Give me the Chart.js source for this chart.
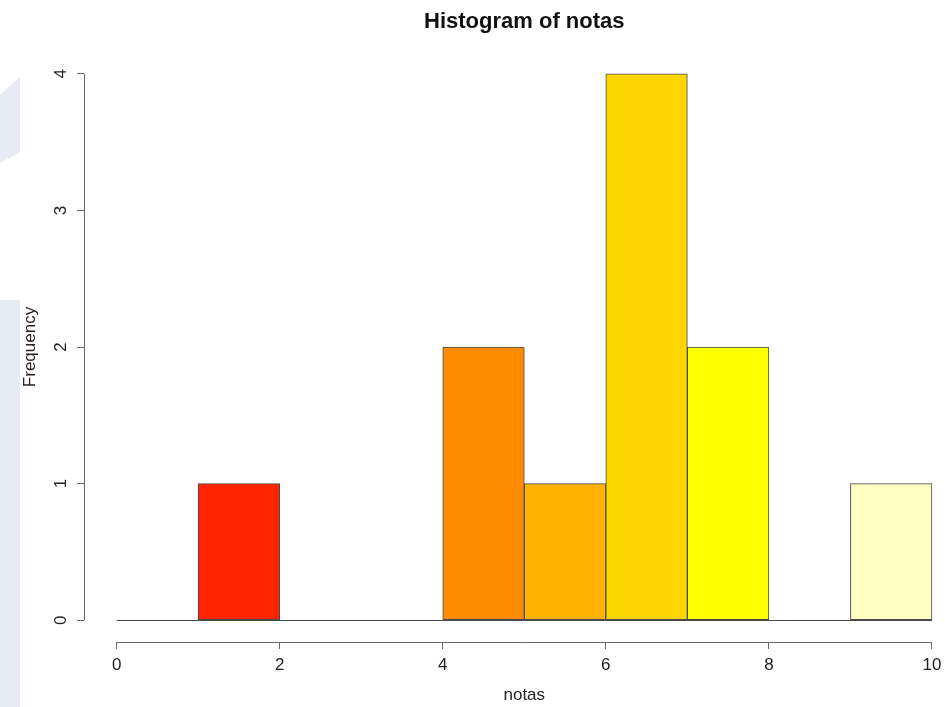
<!DOCTYPE html>
<html>
<head>
<meta charset="utf-8">
<script src="https://cdn.jsdelivr.net/npm/chart.js@4.4.0/dist/chart.umd.min.js"></script>
<style>
html, body { margin: 0; padding: 0; background: #fff; }
#wrap { width: 945px; height: 707px; }
</style>
</head>
<body>
<div id="wrap"><canvas id="histChart" width="945" height="707"></canvas></div>
<script>
// histogram of notas, bins of width 1 from 0 to 10
const binMids = [0.5, 1.5, 2.5, 3.5, 4.5, 5.5, 6.5, 7.5, 8.5, 9.5];
const frequencies = [0, 1, 0, 0, 2, 1, 4, 2, 0, 1];
const binColors = ['#FF0000', '#FF2500', '#FF4A00', '#FF6E00', '#FF8C00', '#FFB300', '#FFD700', '#FFFF00', '#FFFF80', '#FFFFC4'];
const xTicks = [0, 2, 4, 6, 8, 10];
const yTicks = [0, 1, 2, 3, 4];

const fontName = '"Liberation Sans", Arial, sans-serif';
const axisColor = '#666';
const barEdge = '#4a4a4a';

// R-like axes, titles and the grey-blue shape on the left
const rStyle = {
    id: 'rStyle',
    beforeDraw(chart) {
        const ctx = chart.ctx;
        ctx.save();
        ctx.fillStyle = '#E7EBF2';
        ctx.beginPath();
        ctx.moveTo(0, 95); ctx.lineTo(20, 77); ctx.lineTo(20, 152); ctx.lineTo(0, 163);
        ctx.closePath();
        ctx.fill();
        ctx.fillRect(0, 300, 20, 407);
        ctx.restore();
    },
    afterDraw(chart) {
        const ctx = chart.ctx;
        const x = chart.scales.x;
        const y = chart.scales.y;
        const area = chart.chartArea;
        ctx.save();
        ctx.lineWidth = 1;

        // baseline under all bins (zero-height bins too)
        const y0 = Math.round(y.getPixelForValue(0)) + 0.5;
        ctx.strokeStyle = barEdge;
        ctx.beginPath();
        ctx.moveTo(x.getPixelForValue(0), y0);
        ctx.lineTo(x.getPixelForValue(10), y0);
        ctx.stroke();

        // x axis line
        ctx.strokeStyle = axisColor;
        const xb = Math.round(area.bottom) + 0.5;
        ctx.beginPath();
        ctx.moveTo(x.getPixelForValue(xTicks[0]), xb);
        ctx.lineTo(x.getPixelForValue(xTicks[xTicks.length - 1]), xb);
        ctx.stroke();

        // y axis line
        const yl = Math.round(area.left) + 0.5;
        ctx.beginPath();
        ctx.moveTo(yl, y.getPixelForValue(yTicks[0]));
        ctx.lineTo(yl, y.getPixelForValue(yTicks[yTicks.length - 1]));
        ctx.stroke();

        // y tick labels, rotated like R
        ctx.fillStyle = '#222';
        ctx.font = '17px ' + fontName;
        ctx.textAlign = 'center';
        ctx.textBaseline = 'middle';
        yTicks.forEach(v => {
            ctx.save();
            ctx.translate(61, y.getPixelForValue(v));
            ctx.rotate(-Math.PI / 2);
            ctx.fillText(String(v), 0, 0);
            ctx.restore();
        });

        // titles
        const cx = (x.getPixelForValue(-0.4) + x.getPixelForValue(10.4)) / 2;
        ctx.fillStyle = '#111';
        ctx.font = 'bold 22px ' + fontName;
        ctx.fillText('Histogram of notas', cx, 22);
        ctx.fillStyle = '#222';
        ctx.font = '17px ' + fontName;
        ctx.fillText('notas', cx, 695);
        ctx.save();
        ctx.translate(30, (area.top + area.bottom) / 2);
        ctx.rotate(-Math.PI / 2);
        ctx.fillText('Frequency', 0, 0);
        ctx.restore();
        ctx.restore();
    }
};

const ctx = document.getElementById('histChart').getContext('2d');
new Chart(ctx, {
    type: 'bar',
    data: {
        datasets: [{
            label: 'notas',
            data: binMids.map((m, i) => ({ x: m, y: frequencies[i] })),
            backgroundColor: binColors,
            borderColor: barEdge,
            borderWidth: 1,
            borderSkipped: false,
            barPercentage: 1,
            categoryPercentage: 1,
            grouped: false
        }]
    },
    options: {
        responsive: false,
        devicePixelRatio: 1,
        animation: false,
        layout: { padding: { top: 52, left: 0, right: 0, bottom: 0 } },
        plugins: {
            legend: { display: false },
            title: { display: false },
            tooltip: { enabled: false }
        },
        scales: {
            x: {
                type: 'linear',
                min: -0.4,
                max: 10.16,
                offset: false,
                afterBuildTicks: scale => { scale.ticks = xTicks.map(v => ({ value: v })); },
                afterFit: scale => {
                    scale.height = 65;
                    scale.paddingLeft = 0;
                    scale.paddingRight = 0;
                },
                border: { display: false },
                grid: { offset: false, drawOnChartArea: false, drawTicks: true, tickLength: 7, color: axisColor },
                ticks: {
                    color: '#222',
                    font: { family: fontName, size: 17 },
                    padding: 6,
                    maxRotation: 0,
                    autoSkip: false
                }
            },
            y: {
                type: 'linear',
                min: -0.16,
                max: 4.16,
                afterBuildTicks: scale => { scale.ticks = yTicks.map(v => ({ value: v })); },
                afterFit: scale => { scale.width = 84; },
                border: { display: false },
                grid: { drawOnChartArea: false, drawTicks: true, tickLength: 7, color: axisColor },
                ticks: { display: false }
            }
        }
    },
    plugins: [rStyle]
});
</script>
</body>
</html>
